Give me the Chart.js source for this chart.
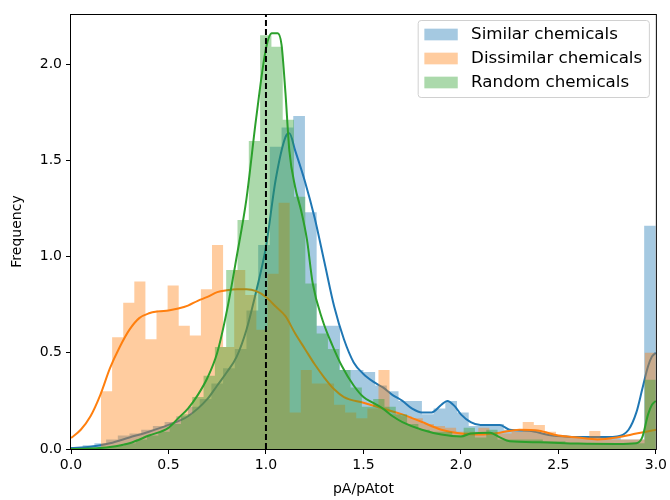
<!DOCTYPE html>
<html>
<head>
<meta charset="utf-8">
<script src="https://cdn.jsdelivr.net/npm/chart.js@4.4.1/dist/chart.umd.min.js"></script>
<style>
  html, body { margin: 0; padding: 0; background: #fff; }
  #wrap { width: 670px; height: 500px; }
</style>
</head>
<body>
<div id="wrap"><canvas id="chart" width="670" height="500"></canvas></div>
<script>
// each histogram uses 50 equal bins over its own data range
const similarRange = [0.0, 3.0];
const dissimilarRange = [0.154, 3.0];
const randomRange = [0.10, 3.0];

const similarHist = [
  0.01, 0.02, 0.03, 0.05, 0.07, 0.08, 0.10, 0.12, 0.14, 0.17,
  0.22, 0.26, 0.34, 0.42, 0.52, 0.72, 1.06, 1.57, 1.67, 1.73,
  1.23, 0.64, 0.64, 0.41, 0.41, 0.40, 0.33, 0.30, 0.25, 0.25,
  0.18, 0.21, 0.25, 0.19, 0.12, 0.13, 0.13, 0.10, 0.10, 0.10,
  0.08, 0.07, 0.065, 0.065, 0.065, 0.06, 0.06, 0.05, 0.05, 1.16
];
const dissimilarHist = [
  0.30, 0.58, 0.76, 0.87, 0.57, 0.72, 0.85, 0.64, 0.59, 0.83,
  1.06, 0.53, 0.93, 0.80, 0.62, 0.91, 1.28, 0.19, 0.41, 0.34,
  0.34, 0.23, 0.19, 0.16, 0.21, 0.41, 0.18, 0.17, 0.16, 0.13,
  0.12, 0.11, 0.09, 0.09, 0.11, 0.08, 0.08, 0.09, 0.14, 0.125,
  0.09, 0.07, 0.06, 0.06, 0.094, 0.06, 0.05, 0.05, 0.05, 0.50
];
const randomHist = [
  0.005, 0.01, 0.015, 0.03, 0.05, 0.07, 0.09, 0.13, 0.18, 0.27,
  0.38, 0.53, 0.93, 1.19, 1.60, 2.15, 2.09, 1.71, 1.31, 0.86,
  0.60, 0.52, 0.41, 0.32, 0.22, 0.26, 0.22, 0.18, 0.13, 0.10,
  0.09, 0.09, 0.07, 0.11, 0.06, 0.10, 0.05, 0.05, 0.05, 0.05,
  0.04, 0.04, 0.03, 0.03, 0.03, 0.03, 0.03, 0.03, 0.03, 0.36
];

// density curves
const similarKdeX = [0.00, 0.10, 0.20, 0.30, 0.40, 0.50, 0.60, 0.70, 0.75, 0.80, 0.85, 0.90, 0.95, 1.00, 1.05, 1.10, 1.12, 1.15, 1.20, 1.25, 1.30, 1.35, 1.40, 1.45, 1.50, 1.55, 1.60, 1.65, 1.70, 1.75, 1.80, 1.85, 1.90, 1.93, 1.97, 2.00, 2.05, 2.10, 2.20, 2.25, 2.35, 2.45, 2.55, 2.65, 2.75, 2.80, 2.86, 2.90, 2.93, 2.96, 2.98, 3.00];
const similarKdeY = [0.005, 0.012, 0.03, 0.06, 0.09, 0.125, 0.17, 0.26, 0.33, 0.40, 0.48, 0.62, 0.82, 1.05, 1.40, 1.62, 1.64, 1.55, 1.39, 1.20, 0.97, 0.74, 0.57, 0.45, 0.39, 0.35, 0.32, 0.28, 0.25, 0.21, 0.19, 0.19, 0.23, 0.25, 0.22, 0.18, 0.14, 0.125, 0.125, 0.10, 0.095, 0.073, 0.064, 0.062, 0.062, 0.065, 0.10, 0.19, 0.31, 0.43, 0.48, 0.50];

const dissimilarKdeX = [0.00, 0.05, 0.10, 0.15, 0.20, 0.25, 0.30, 0.35, 0.40, 0.45, 0.50, 0.55, 0.60, 0.65, 0.70, 0.75, 0.80, 0.85, 0.90, 0.95, 1.00, 1.05, 1.10, 1.15, 1.20, 1.25, 1.30, 1.35, 1.40, 1.50, 1.60, 1.70, 1.80, 1.90, 2.00, 2.10, 2.20, 2.30, 2.40, 2.50, 2.60, 2.70, 2.80, 2.90, 3.00];
const dissimilarKdeY = [0.057, 0.10, 0.17, 0.28, 0.42, 0.53, 0.62, 0.68, 0.705, 0.715, 0.72, 0.73, 0.745, 0.77, 0.79, 0.815, 0.825, 0.83, 0.83, 0.82, 0.79, 0.74, 0.69, 0.60, 0.52, 0.44, 0.37, 0.31, 0.27, 0.24, 0.21, 0.18, 0.14, 0.10, 0.08, 0.075, 0.085, 0.10, 0.095, 0.07, 0.06, 0.05, 0.06, 0.08, 0.10];

const randomKdeX = [0.00, 0.10, 0.20, 0.30, 0.40, 0.50, 0.55, 0.60, 0.65, 0.70, 0.75, 0.80, 0.85, 0.90, 0.95, 1.00, 1.03, 1.06, 1.08, 1.10, 1.12, 1.15, 1.18, 1.21, 1.24, 1.29, 1.34, 1.39, 1.45, 1.50, 1.55, 1.60, 1.65, 1.70, 1.80, 1.90, 2.00, 2.05, 2.15, 2.20, 2.25, 2.40, 2.60, 2.80, 2.90, 2.93, 2.96, 2.98, 3.00];
const randomKdeY = [0.000, 0.002, 0.01, 0.03, 0.07, 0.11, 0.16, 0.21, 0.28, 0.37, 0.50, 0.72, 1.00, 1.30, 1.72, 2.08, 2.16, 2.16, 2.10, 1.85, 1.55, 1.36, 1.24, 1.09, 0.86, 0.67, 0.54, 0.43, 0.33, 0.27, 0.24, 0.21, 0.17, 0.14, 0.10, 0.075, 0.065, 0.08, 0.085, 0.06, 0.04, 0.035, 0.028, 0.026, 0.03, 0.06, 0.18, 0.23, 0.25];

const seriesLabels = ['Similar chemicals', 'Dissimilar chemicals', 'Random chemicals'];
const seriesColors = ['#1f77b4', '#ff7f0e', '#2ca02c'];
const refLineX = 1.0;

const FONT = '"DejaVu Sans", sans-serif';
const FONT_SIZE = 14;
const LEGEND_FONT_SIZE = 16.7;

function withAlpha(hex, a) {
  const n = parseInt(hex.slice(1), 16);
  return `rgba(${n >> 16}, ${(n >> 8) & 255}, ${n & 255}, ${a})`;
}

// stepped outline of a histogram: one point per bin left edge, closed at both ends
function histPoints(range, heights) {
  const w = (range[1] - range[0]) / heights.length;
  const pts = [{ x: range[0], y: 0 }];
  heights.forEach((h, i) => pts.push({ x: range[0] + i * w, y: h }));
  pts.push({ x: range[1], y: 0 });
  return pts;
}

function kdePoints(xs, ys) {
  return xs.map((x, i) => ({ x: x, y: ys[i] }));
}

function histDataset(i, range, heights, order) {
  return {
    label: seriesLabels[i],
    histogram: true,
    data: histPoints(range, heights),
    stepped: true,
    borderWidth: 0,
    borderColor: 'rgba(0,0,0,0)',
    backgroundColor: withAlpha(seriesColors[i], 0.4),
    fill: 'origin',
    pointRadius: 0,
    order: order
  };
}

function kdeDataset(i, xs, ys, order) {
  return {
    label: seriesLabels[i] + ' kde',
    data: kdePoints(xs, ys),
    borderColor: seriesColors[i],
    borderWidth: 2,
    fill: false,
    pointRadius: 0,
    cubicInterpolationMode: 'monotone',
    order: order
  };
}

// axes frame on all four sides
const frame = {
  id: 'frame',
  afterDatasetsDraw(chart) {
    const { ctx, chartArea: a } = chart;
    ctx.save();
    ctx.strokeStyle = '#000';
    ctx.lineWidth = 1;
    ctx.strokeRect(a.left - 0.5, a.top + 0.5, a.right - a.left + 1, a.bottom - a.top);
    ctx.restore();
  }
};

// legend box in the upper right corner of the plot
const legendBox = {
  id: 'legendBox',
  afterDraw(chart) {
    const { ctx, chartArea: a } = chart;
    const items = chart.data.datasets.filter(d => d.histogram);
    const fs = LEGEND_FONT_SIZE;
    ctx.save();
    ctx.font = fs + 'px ' + FONT;
    const textW = Math.max(...items.map(d => ctx.measureText(d.label).width));
    const pad = 0.4 * fs, patchW = 2 * fs, patchH = 0.7 * fs, gap = 0.8 * fs, rowH = 24;
    const w = pad + patchW + gap + textW + pad;
    const h = rowH * items.length + 5;
    const x0 = a.right - 7 - w;
    const y0 = a.top + 6;
    ctx.beginPath();
    ctx.roundRect(x0 + 0.5, y0 + 0.5, w, h, 3);
    ctx.fillStyle = 'rgba(255,255,255,0.8)';
    ctx.fill();
    ctx.strokeStyle = '#d0d0d0';
    ctx.lineWidth = 1;
    ctx.stroke();
    items.forEach((d, i) => {
      const cy = y0 + 14.5 + i * rowH;
      ctx.fillStyle = d.backgroundColor;
      ctx.fillRect(x0 + pad, cy - patchH / 2, patchW, patchH);
      ctx.fillStyle = '#000';
      ctx.textBaseline = 'middle';
      ctx.textAlign = 'left';
      ctx.fillText(d.label, x0 + pad + patchW + gap, cy);
    });
    ctx.restore();
  }
};

const datasets = [
  histDataset(0, similarRange, similarHist, 7),
  kdeDataset(0, similarKdeX, similarKdeY, 6),
  histDataset(1, dissimilarRange, dissimilarHist, 5),
  kdeDataset(1, dissimilarKdeX, dissimilarKdeY, 4),
  histDataset(2, randomRange, randomHist, 3),
  kdeDataset(2, randomKdeX, randomKdeY, 2),
  {
    label: 'reference',
    data: [{ x: refLineX, y: 0 }, { x: refLineX, y: 3 }],
    borderColor: '#000',
    borderWidth: 2,
    borderDash: [6, 3],
    pointRadius: 0,
    fill: false,
    order: 1
  }
];

const tickFont = { family: FONT, size: FONT_SIZE };

new Chart(document.getElementById('chart'), {
  type: 'line',
  data: { datasets: datasets },
  options: {
    responsive: false,
    animation: false,
    layout: { padding: { top: 14, right: 13, left: 0, bottom: 0 } },
    plugins: { legend: { display: false }, tooltip: { enabled: false } },
    scales: {
      x: {
        type: 'linear',
        min: 0,
        max: 3,
        afterFit: s => { s.height = 51; },
        grid: { drawOnChartArea: false, drawTicks: true, tickLength: 5, color: '#000' },
        border: { display: false },
        ticks: { stepSize: 0.5, padding: 3, color: '#000', font: tickFont, maxRotation: 0,
                 callback: v => v.toFixed(1) },
        title: { display: true, text: 'pA/pAtot', color: '#000', font: tickFont, padding: { top: 0, bottom: 2 } }
      },
      y: {
        min: 0,
        max: 2.26,
        afterFit: s => { s.width = 71; },
        grid: { drawOnChartArea: false, drawTicks: true, tickLength: 5, color: '#000' },
        border: { display: false },
        ticks: { stepSize: 0.5, includeBounds: false, padding: 4, color: '#000', font: tickFont,
                 callback: v => v.toFixed(1) },
        title: { display: true, text: 'Frequency', color: '#000', font: tickFont, padding: { top: 9, bottom: 0 } }
      }
    }
  },
  plugins: [frame, legendBox]
});
</script>
</body>
</html>
